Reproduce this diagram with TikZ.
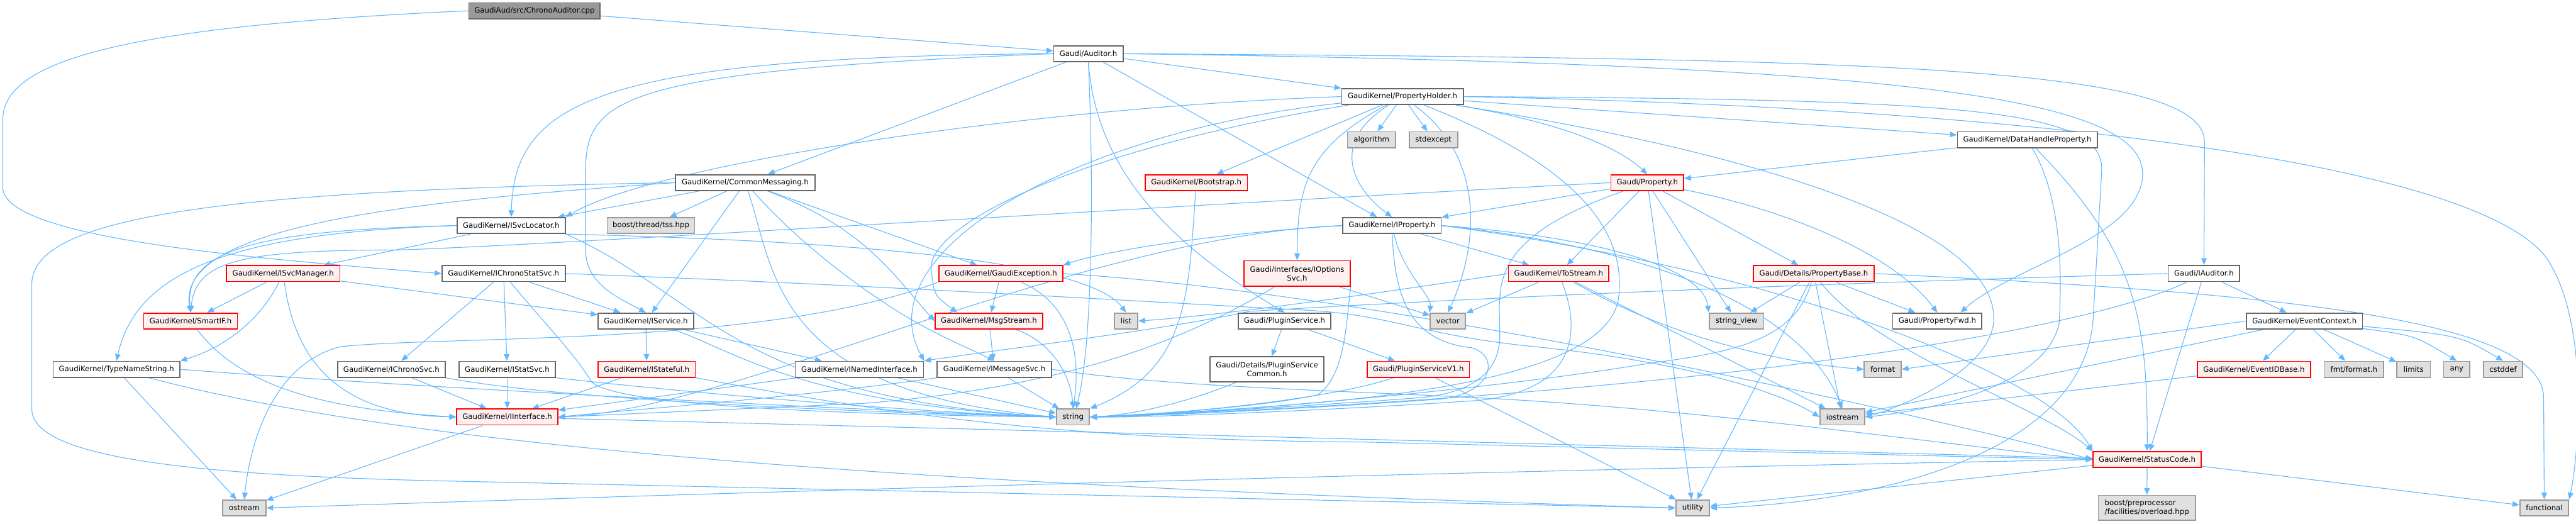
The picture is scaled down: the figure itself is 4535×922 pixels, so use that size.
\documentclass[tikz,border=0pt]{standalone}
\usepackage{fontspec}
\setmainfont{DejaVu Sans}
\usetikzlibrary{arrows.meta,backgrounds}
\definecolor{edgec}{HTML}{63B8FF}
\definecolor{greyforty}{HTML}{666666}
\definecolor{greysixty}{HTML}{999999}
\definecolor{extfill}{HTML}{E0E0E0}
\definecolor{redfill}{HTML}{FFF0F0}
\definecolor{rootfill}{HTML}{999999}
\tikzset{
  every node/.style={font=\fontsize{7.4}{8.8}\selectfont, inner sep=0pt, align=center, minimum height=0.56cm, line width=1.1pt},
  nbox/.style={draw=greyforty, fill=white},
  rbox/.style={draw=red, fill=redfill},
  gbox/.style={draw=greysixty, fill=extfill},
  rootbox/.style={draw=greyforty, fill=rootfill},
  wd/.style={minimum width=#1cm},
  dep/.style={draw=edgec, line width=0.7pt, -{Triangle[length=6.8pt,width=5.6pt]}}
}
\begin{document}
\begin{tikzpicture}[x=0.02cm,y=-0.02cm]
\useasboundingbox (0,0) rectangle (4535,922);
% ---------------- nodes ----------------
\node[rootbox,wd=4.62] (root) at (941,19) {GaudiAud/src/ChronoAuditor.cpp};
\node[nbox,wd=2.44] (auditor) at (1916,94.5) {Gaudi/Auditor.h};
\node[nbox,wd=4.28] (propholder) at (2469,170) {GaudiKernel/PropertyHolder.h};
\node[gbox,wd=1.70] (algorithm) at (2414.5,246) {algorithm};
\node[gbox,wd=1.70] (stdexcept) at (2523.5,246) {stdexcept};
\node[nbox,wd=4.92] (datahandle) at (3569,246) {GaudiKernel/DataHandleProperty.h};
\node[nbox,wd=4.92] (commsg) at (1312,321.5) {GaudiKernel/CommonMessaging.h};
\node[gbox,wd=3.08] (tss) at (1146,397) {boost/thread/tss.hpp};
\node[rbox,wd=3.60] (bootstrap) at (2106,321.5) {GaudiKernel/Bootstrap.h};
\node[rbox,wd=2.56] (property) at (2900,321.5) {Gaudi/Property.h};
\node[nbox,wd=3.80] (isvcloc) at (900,397) {GaudiKernel/ISvcLocator.h};
\node[nbox,wd=3.46] (iproperty) at (2450.5,397) {GaudiKernel/IProperty.h};
\node[rbox,wd=4.00] (isvcmgr) at (498.5,481.5) {GaudiKernel/ISvcManager.h};
\node[nbox,wd=4.34] (ichronostat) at (886.5,481.5) {GaudiKernel/IChronoStatSvc.h};
\node[rbox,wd=4.36] (gaudiexc) at (1762,481.5) {GaudiKernel/GaudiException.h};
\node[rbox,wd=3.74,minimum height=0.9cm] (ioptions) at (2283.5,481.5) {Gaudi/Interfaces/IOptions\\Svc.h};
\node[rbox,wd=3.54] (tostream) at (2744,481.5) {GaudiKernel/ToStream.h};
\node[rbox,wd=4.26] (propbase) at (3193,481.5) {Gaudi/Details/PropertyBase.h};
\node[nbox,wd=2.52] (iauditor) at (3880,481.5) {Gaudi/IAuditor.h};
\node[rbox,wd=3.30] (smartif) at (335.5,565) {GaudiKernel/SmartIF.h};
\node[nbox,wd=3.36] (iservice) at (1137,565) {GaudiKernel/IService.h};
\node[rbox,wd=3.80] (msgstream) at (1741,565) {GaudiKernel/MsgStream.h};
\node[gbox,wd=0.82] (list) at (1982.5,565) {list};
\node[nbox,wd=3.26] (pluginsvc) at (2261.5,565) {Gaudi/PluginService.h};
\node[gbox,wd=1.24] (vector) at (2549,565) {vector};
\node[gbox,wd=1.92] (stringview) at (3057,565) {string\_view};
\node[nbox,wd=3.14] (propfwd) at (3410.5,565) {Gaudi/PropertyFwd.h};
\node[nbox,wd=4.08] (eventctx) at (4057,565) {GaudiKernel/EventContext.h};
\node[nbox,wd=4.46] (typename) at (205,650) {GaudiKernel/TypeNameString.h};
\node[nbox,wd=3.78] (ichrono) at (689,650) {GaudiKernel/IChronoSvc.h};
\node[nbox,wd=3.40] (istatsvc) at (893,650) {GaudiKernel/IStatSvc.h};
\node[rbox,wd=3.42] (istateful) at (1138.5,650) {GaudiKernel/IStateful.h};
\node[nbox,wd=4.52] (inamed) at (1513,650) {GaudiKernel/INamedInterface.h};
\node[nbox,wd=4.02] (imsgsvc) at (1750.5,650) {GaudiKernel/IMessageSvc.h};
\node[nbox,wd=4.02,minimum height=0.88cm] (plugincommon) at (2230.5,650) {Gaudi/Details/PluginService\\Common.h};
\node[rbox,wd=3.60] (pluginv1) at (2497,650) {Gaudi/PluginServiceV1.h};
\node[gbox,wd=1.30] (format) at (3314.5,650) {format};
\node[rbox,wd=4.00] (eventid) at (3968,650) {GaudiKernel/EventIDBase.h};
\node[gbox,wd=2.10] (fmtformat) at (4144,650) {fmt/format.h};
\node[gbox,wd=1.18] (limits) at (4249,650) {limits};
\node[gbox,wd=0.92] (any) at (4325,650) {any};
\node[gbox,wd=1.38] (cstddef) at (4406.5,650) {cstddef};
\node[rbox,wd=3.56] (iinterface) at (893,734) {GaudiKernel/IInterface.h};
\node[gbox,wd=1.16] (string) at (1889,734) {string};
\node[gbox,wd=1.58] (iostream) at (3243.5,734) {iostream};
\node[rbox,wd=3.80] (statuscode) at (3780,809) {GaudiKernel/StatusCode.h};
\node[gbox,wd=1.52] (ostream) at (430,894) {ostream};
\node[gbox,wd=1.18] (utility) at (2980,894) {utility};
\node[gbox,wd=3.42,minimum height=0.88cm,align=left] (boostpp) at (3779.5,894) {boost/preprocessor\\/facilities/overload.hpp};
\node[gbox,wd=1.72] (functional) at (4479,894) {functional};
% ---------------- edges ----------------
\begin{scope}[on background layer]
% root
\draw[dep] (root) -- (auditor);
\draw[dep] (root.west) .. controls (250,45) and (5,100) .. (5,210) -- (5,330) .. controls (5,420) and (450,455) .. (ichronostat.west);
% Gaudi/Auditor.h
\draw[dep] (auditor) -- (propholder);
\draw[dep] (auditor.east) .. controls (3300,103) and (3881,115) .. (3881,250) -- (iauditor.north);
\draw[dep] (auditor.east) .. controls (3350,113) and (3780,170) .. (3772,310) .. controls (3765,420) and (3540,470) .. (propfwd.20);
\draw[dep] (auditor.west) .. controls (1050,100) and (905,180) .. (isvcloc.north);
\draw[dep] (auditor.west) .. controls (1100,125) and (1031,170) .. (1031,300) -- (1031,440) .. controls (1031,500) and (1090,525) .. (iservice.north);
\draw[dep] (auditor) -- (commsg);
\draw[dep] (auditor.south) .. controls (1925,300) and (1925,600) .. (string.70);
\draw[dep] (auditor.south) .. controls (1930,300) and (2060,430) .. (pluginsvc.north);
\draw[dep] (auditor) -- (iproperty);
% PropertyHolder
\draw[dep] (propholder) -- (algorithm);
\draw[dep] (propholder) -- (stdexcept);
\draw[dep] (propholder) -- (datahandle);
\draw[dep] (propholder) .. controls (2750,215) and (2850,260) .. (property.north);
\draw[dep] (propholder) .. controls (2340,250) and (2380,330) .. (iproperty.north);
\draw[dep] (propholder) .. controls (2300,260) and (2284,330) .. (ioptions.north);
\draw[dep] (propholder) -- (bootstrap);
\draw[dep] (propholder.west) .. controls (1800,190) and (1150,290) .. (isvcloc.north east);
\draw[dep] (propholder) .. controls (1900,230) and (1520,440) .. (inamed.north east);
\draw[dep] (propholder) .. controls (1900,260) and (1620,400) .. (1640,480) .. controls (1645,520) .. (msgstream.165);
\draw[dep] (propholder) .. controls (2620,280) and (2600,440) .. (vector.north);
\draw[dep] (propholder) .. controls (2800,300) and (2860,420) .. (2850,520) .. controls (2835,690) and (2300,715) .. (string.east);
\draw[dep] (propholder) .. controls (3100,270) and (3510,400) .. (3510,560) .. controls (3510,650) and (3350,715) .. (iostream.east);
\draw[dep] (propholder.east) .. controls (3450,175) and (3705,190) .. (3700,300) -- (3685,560) .. controls (3670,800) and (3300,885) .. (utility.east);
\draw[dep] (propholder.east) .. controls (3600,190) and (4350,290) .. (4480,450) .. controls (4560,560) and (4540,800) .. (functional.north east);
% CommonMessaging
\draw[dep] (commsg) -- (isvcloc);
\draw[dep] (commsg) -- (tss);
\draw[dep] (commsg) -- (iservice);
\draw[dep] (commsg) .. controls (1365,480) and (1360,690) .. (string.west);
\draw[dep] (commsg) .. controls (1400,420) and (1500,500) .. (1600,560) .. controls (1660,595) and (1700,610) .. (imsgsvc.north);
\draw[dep] (commsg) -- (gaudiexc);
\draw[dep] (commsg) .. controls (1520,400) and (1570,480) .. (msgstream.west);
\draw[dep] (commsg.west) .. controls (700,355) and (310,400) .. (smartif.north);
\draw[dep] (commsg.west) .. controls (400,335) and (56,380) .. (56,500) -- (56,720) .. controls (56,800) and (300,835) .. (760,846) -- (utility.west);
% ISvcLocator
\draw[dep] (isvcloc.west) .. controls (450,405) and (325,440) .. (smartif.north);
\draw[dep] (isvcloc.west) .. controls (400,410) and (240,480) .. (typename.north);
\draw[dep] (isvcloc) -- (isvcmgr);
\draw[dep] (isvcloc.south east) .. controls (1300,420) and (1900,440) .. (list.north);
\draw[dep] (isvcloc.south east) .. controls (1240,520) and (1290,700) .. (string.west);
% ISvcManager
\draw[dep] (isvcmgr) -- (smartif);
\draw[dep] (isvcmgr) .. controls (460,560) and (400,610) .. (typename.north east);
\draw[dep] (isvcmgr) -- (iservice);
\draw[dep] (isvcmgr) .. controls (520,640) and (600,730) .. (iinterface.west);
% IChronoStatSvc
\draw[dep] (ichronostat) -- (ichrono);
\draw[dep] (ichronostat) -- (istatsvc);
\draw[dep] (ichronostat) -- (iservice);
\draw[dep] (ichronostat) .. controls (950,560) and (1010,620) .. (1040,670) .. controls (1070,715) and (1500,730) .. (string.west);
\draw[dep] (ichronostat.east) .. controls (1500,500) and (2000,530) .. (2300,546) .. controls (2450,554) and (2500,590) .. (2700,610) .. controls (3000,640) and (3150,700) .. (iostream.west);
% IChronoSvc, IStatSvc
\draw[dep] (ichrono) -- (iinterface);
\draw[dep] (ichrono.south east) .. controls (1000,705) and (1500,725) .. (string.west);
\draw[dep] (istatsvc) -- (iinterface);
\draw[dep] (istatsvc.south east) .. controls (1200,690) and (1600,725) .. (string.west);
% IService, IStateful, INamedInterface, IMessageSvc
\draw[dep] (iservice) -- (istateful);
\draw[dep] (iservice) -- (inamed);
\draw[dep] (iservice) .. controls (1280,610) and (1400,710) .. (string.west);
\draw[dep] (istateful) -- (iinterface);
\draw[dep] (istateful.south east) .. controls (1600,735) and (1900,775) .. (2400,778) -- (statuscode.west);
\draw[dep] (inamed) -- (iinterface);
\draw[dep] (inamed) -- (string);
\draw[dep] (imsgsvc.south west) .. controls (1400,700) and (1100,722) .. (iinterface.east);
\draw[dep] (imsgsvc) -- (string);
\draw[dep] (imsgsvc.east) .. controls (2050,680) and (2300,685) .. (2600,700) .. controls (3000,720) and (3400,780) .. (statuscode.west);
% SmartIF, TypeNameString
\draw[dep] (smartif) .. controls (430,690) and (600,722) .. (iinterface.west);
\draw[dep] (typename) -- (ostream);
\draw[dep] (typename.east) .. controls (700,680) and (1500,722) .. (string.west);
\draw[dep] (typename) .. controls (700,780) and (1500,850) .. (utility.west);
% GaudiException, MsgStream
\draw[dep] (gaudiexc) -- (msgstream);
\draw[dep] (gaudiexc) .. controls (1900,540) and (1900,650) .. (string.north);
\draw[dep] (gaudiexc.south west) .. controls (1350,610) and (800,590) .. (600,610) .. controls (480,640) and (440,780) .. (ostream.north);
\draw[dep] (gaudiexc.east) .. controls (2500,520) and (3500,760) .. (statuscode.west);
\draw[dep] (msgstream) -- (imsgsvc);
\draw[dep] (msgstream) .. controls (1850,600) and (1885,660) .. (string.north);
% Plugin service
\draw[dep] (pluginsvc) -- (plugincommon);
\draw[dep] (pluginsvc) -- (pluginv1);
\draw[dep] (plugincommon) .. controls (2100,705) and (2000,730) .. (string.east);
\draw[dep] (pluginv1) -- (utility);
\draw[dep] (pluginv1) .. controls (2350,700) and (2100,728) .. (string.east);
% IOptionsSvc
\draw[dep] (ioptions) -- (vector);
\draw[dep] (ioptions.south east) .. controls (2370,560) and (2370,660) .. (2320,695) .. controls (2200,720) and (2000,730) .. (string.east);
\draw[dep] (ioptions) .. controls (2100,590) and (1900,680) .. (1520,710) -- (iinterface.east);
% ToStream
\draw[dep] (tostream.west) .. controls (2400,520) and (2150,555) .. (list.east);
\draw[dep] (tostream) -- (vector);
\draw[dep] (tostream) .. controls (2790,600) and (2760,690) .. (2600,705) .. controls (2300,725) and (2000,735) .. (string.east);
\draw[dep] (tostream) -- (iostream);
\draw[dep] (tostream) .. controls (2950,600) and (3150,640) .. (format.west);
% PropertyBase
\draw[dep] (propbase) -- (stringview);
\draw[dep] (propbase) -- (propfwd);
\draw[dep] (propbase) -- (iostream);
\draw[dep] (propbase) .. controls (3300,620) and (3600,720) .. (statuscode.north west);
\draw[dep] (propbase) .. controls (3160,600) and (3050,620) .. (2900,640) .. controls (2600,690) and (2100,730) .. (string.east);
\draw[dep] (propbase) -- (utility);
\draw[dep] (propbase.east) .. controls (4000,515) and (4478,560) .. (4478,700) -- (functional.north);
% Gaudi/Property.h
\draw[dep] (property.west) .. controls (2000,365) and (1000,430) .. (700,440) .. controls (420,440) and (345,460) .. (smartif.north);
\draw[dep] (property) -- (iproperty);
\draw[dep] (property) .. controls (2620,420) and (2640,500) .. (2640,580) .. controls (2645,650) and (2600,690) .. (2500,700) .. controls (2300,715) and (2000,732) .. (string.east);
\draw[dep] (property) -- (tostream);
\draw[dep] (property) -- (utility);
\draw[dep] (property) -- (stringview);
\draw[dep] (property) .. controls (3100,360) and (3320,430) .. (propfwd.north);
\draw[dep] (property) -- (propbase);
% IProperty
\draw[dep] (iproperty.west) .. controls (1900,415) and (1300,720) .. (iinterface.east);
\draw[dep] (iproperty.west) .. controls (2150,410) and (1950,440) .. (gaudiexc.north east);
\draw[dep] (iproperty) .. controls (2455,520) and (2480,600) .. (2590,612) .. controls (2640,625) and (2630,690) .. (2540,702) .. controls (2300,720) and (2000,733) .. (string.east);
\draw[dep] (iproperty) .. controls (2470,480) and (2520,520) .. (vector.north west);
\draw[dep] (iproperty) -- (tostream);
\draw[dep] (iproperty.east) .. controls (2950,440) and (3180,560) .. (iostream.north);
\draw[dep] (iproperty.east) .. controls (3100,470) and (3600,650) .. (statuscode.north west);
\draw[dep] (iproperty.east) .. controls (2850,420) and (3000,480) .. (stringview.north west);
% DataHandleProperty
\draw[dep] (datahandle) -- (property);
\draw[dep] (datahandle) .. controls (3630,350) and (3630,480) .. (3625,570) .. controls (3600,680) and (3400,722) .. (iostream.east);
\draw[dep] (datahandle) .. controls (3760,440) and (3781,560) .. (statuscode.north);
% Gaudi/IAuditor.h
\draw[dep] (iauditor) -- (eventctx);
\draw[dep] (iauditor) -- (statuscode);
\draw[dep] (iauditor.west) .. controls (3000,505) and (2500,530) .. (2200,548) .. controls (2050,580) and (1800,610) .. (inamed.north east);
\draw[dep] (iauditor) .. controls (3700,570) and (3100,690) .. (string.east);
% EventContext
\draw[dep] (eventctx) -- (eventid);
\draw[dep] (eventctx) -- (fmtformat);
\draw[dep] (eventctx) -- (limits);
\draw[dep] (eventctx) .. controls (4250,590) .. (any.north);
\draw[dep] (eventctx) .. controls (4330,590) .. (cstddef.north);
\draw[dep] (eventctx) -- (iostream);
\draw[dep] (eventctx.west) -- (format.east);
\draw[dep] (eventid) -- (iostream);
% StatusCode
\draw[dep] (statuscode) -- (boostpp);
\draw[dep] (statuscode) -- (functional);
\draw[dep] (statuscode.west) .. controls (2500,830) and (1200,870) .. (ostream.east);
\draw[dep] (statuscode) -- (utility);
% IInterface
\draw[dep] (iinterface) -- (ostream);
\draw[dep] (iinterface) -- (statuscode);
% Bootstrap
\draw[dep] (bootstrap) .. controls (2092,520) and (2092,650) .. (string.north east);
\end{scope}
\end{tikzpicture}
\end{document}
